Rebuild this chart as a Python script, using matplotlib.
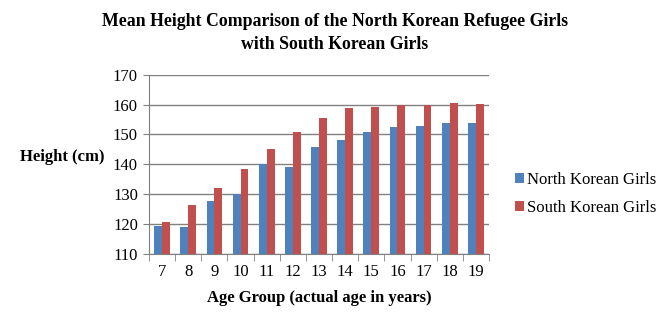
import numpy as np
import matplotlib.pyplot as plt

ages = [7, 8, 9, 10, 11, 12, 13, 14, 15, 16, 17, 18, 19]
north = [119.4, 118.9, 127.8, 130.2, 140.1, 139.2, 145.7, 148.1, 150.9, 152.6, 152.9, 153.7, 154.0]
south = [120.7, 126.5, 132.1, 138.5, 145.0, 150.9, 155.4, 158.8, 159.2, 159.8, 159.8, 160.5, 160.2]

plt.rcParams['font.family'] = ['Liberation Serif', 'DejaVu Serif']

fig = plt.figure(figsize=(6.67, 3.24), dpi=100)
ax = fig.add_axes([149 / 667, 1 - 254 / 324, 340 / 667, 179.3 / 324])

x = np.arange(len(ages))
w = 0.3
ax.bar(x - w / 2, north, w, color='#4F81BD', label='North Korean Girls', zorder=3)
ax.bar(x + w / 2, south, w, color='#C0504D', label='South Korean Girls', zorder=3)

ax.set_ylim(110, 170)
ax.set_xlim(-0.5, len(ages) - 0.5)
ax.set_yticks(range(110, 171, 10))
ax.set_xticks(x)
ax.set_xticklabels(ages)
ax.set_xticks(np.arange(-0.5, len(ages), 1), minor=True)
ax.tick_params(axis='x', which='major', length=0, labelsize=12, pad=7)
ax.tick_params(axis='x', which='minor', length=5, color='#808080', direction='out')
ax.tick_params(axis='y', length=4, color='#808080', labelsize=12, pad=4)
ax.grid(axis='y', color='#808080', linewidth=1, zorder=0)

for s in ['top', 'right']:
    ax.spines[s].set_visible(False)
for s in ['left', 'bottom']:
    ax.spines[s].set_color('#808080')

fig.text(335 / 667, 1 - 33 / 324, 'Mean Height Comparison of the North Korean Refugee Girls\nwith South Korean Girls',
         ha='center', va='center', fontsize=12.8, fontweight='bold', linespacing=1.5)
fig.text(20 / 667, 1 - 157 / 324, 'Height (cm)', ha='left', va='center', fontsize=12, fontweight='bold')
fig.text(319 / 667, 1 - 298 / 324, 'Age Group (actual age in years)', ha='center', va='center',
         fontsize=12, fontweight='bold')

ax.legend(loc='center left', bbox_to_anchor=(500 / 667, 1 - 194 / 324), bbox_transform=fig.transFigure,
          frameon=False, fontsize=12, handlelength=0.55, handleheight=0.55, handletextpad=0.2,
          labelspacing=0.75)

plt.savefig('out.png', dpi=100)
